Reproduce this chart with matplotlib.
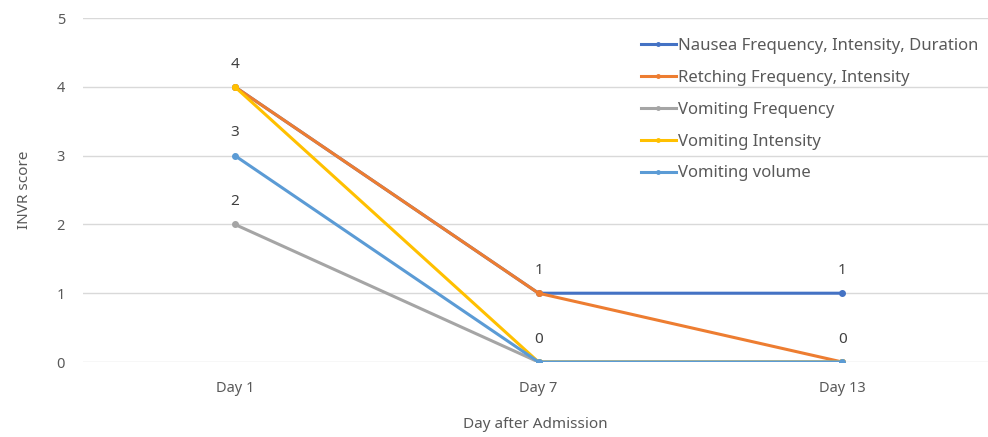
import numpy as np
import matplotlib.pyplot as plt

plt.rcParams['font.family'] = ['Noto Sans', 'DejaVu Sans']

days = ['Day 1', 'Day 7', 'Day 13']
series_names = [
    'Nausea Frequency, Intensity, Duration',
    'Retching Frequency, Intensity',
    'Vomiting Frequency',
    'Vomiting Intensity',
    'Vomiting volume',
]
nausea = [4, 1, 1]
retching = [4, 1, 0]
vomit_freq = [2, 0, 0]
vomit_int = [4, 0, 0]
vomit_vol = [3, 0, 0]
colors = ['#4472C4', '#ED7D31', '#A5A5A5', '#FFC000', '#5B9BD5']

# value labels shown above the points
label_pts = [(0, 4), (0, 3), (0, 2), (1, 1), (1, 0), (2, 1), (2, 0)]

fig = plt.figure(figsize=(9.88, 4.37), dpi=100)
ax = fig.add_axes([0.084, 0.1716, 0.916, 0.7872])

x = np.arange(len(days))
for name, vals, c in zip(series_names,
                         [nausea, retching, vomit_freq, vomit_int, vomit_vol],
                         colors):
    ax.plot(x, vals, color=c, lw=2.2, marker='o', ms=4, label=name)

text_col = '#595959'
for xi, yi in label_pts:
    ax.annotate(str(yi), (xi, yi), xytext=(0, 11), textcoords='offset points',
                ha='center', va='bottom', fontsize=11, color='#404040',
                fontweight='semibold')

ax.set_xlim(-0.5, 2.48)
ax.set_ylim(0, 5)
ax.set_yticks(range(6))
ax.set_xticks(x)
ax.set_xticklabels(days)
ax.grid(axis='y', color='#D9D9D9', lw=1)
ax.set_axisbelow(True)
for s in ax.spines.values():
    s.set_visible(False)
ax.tick_params(length=0, colors=text_col, labelsize=10.5, pad=14)
ax.tick_params(axis='y', pad=13)
ax.set_xlabel('Day after Admission', color=text_col, fontsize=11, labelpad=15)
ax.set_ylabel('INVR score', color=text_col, fontsize=11, labelpad=18)

leg = ax.legend(loc='upper left', bbox_to_anchor=(0.6, 0.985), frameon=False,
                fontsize=12, handlelength=2.1, handletextpad=0.1,
                labelspacing=0.95, labelcolor=text_col)
for h in leg.legend_handles:
    h.set_markersize(2.5)

fig.savefig('out.png', dpi=100)
